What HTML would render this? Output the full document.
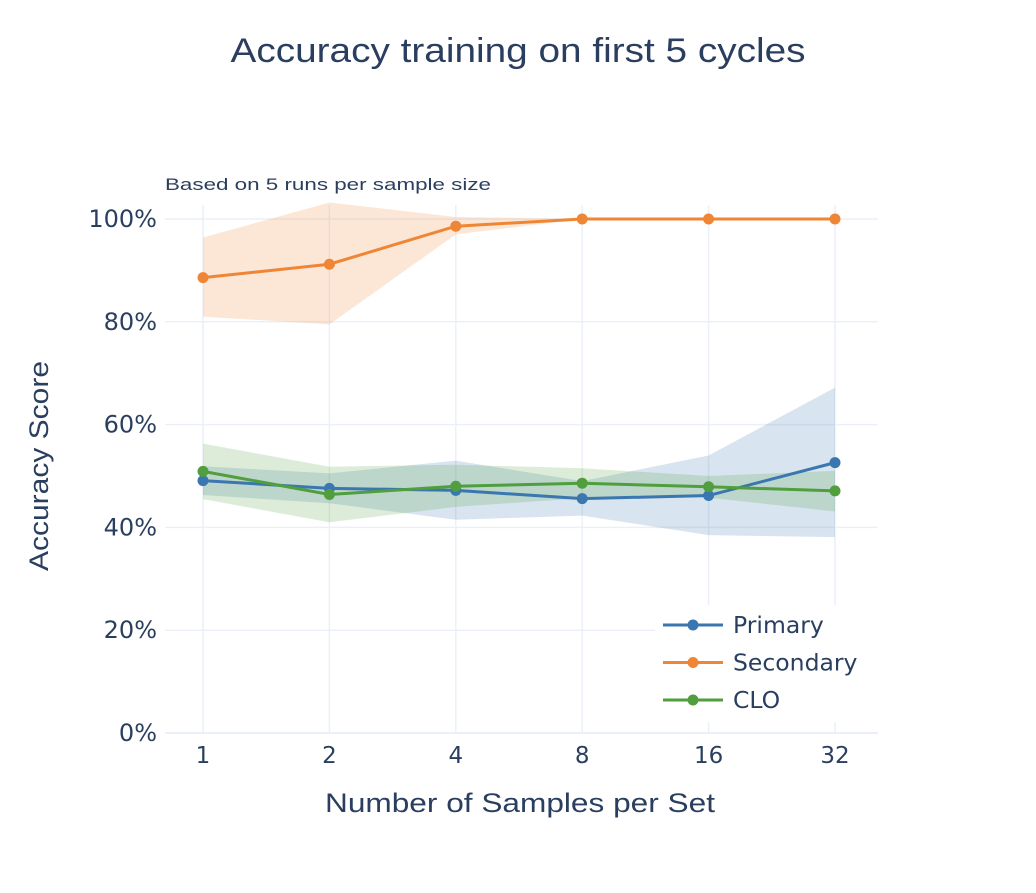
<!DOCTYPE html>
<html><head><meta charset="utf-8"><style>
body{margin:0;background:#fff;font-family:"Liberation Sans",sans-serif;}
</style></head><body>
<svg id="chart" width="1036" height="888" xmlns="http://www.w3.org/2000/svg">
<rect width="1036" height="888" fill="#fff"/>
<text x="518" y="62" text-anchor="middle" font-size="34" fill="#2a3f5f" textLength="575" lengthAdjust="spacingAndGlyphs">Accuracy training on first 5 cycles</text>
<text x="165" y="190" font-size="17" fill="#2a3f5f" textLength="326" lengthAdjust="spacingAndGlyphs">Based on 5 runs per sample size</text>
<g id="grid"></g><g id="bands"></g><g id="lines"></g><g id="axes"></g>
<text x="520" y="812" text-anchor="middle" font-size="27" fill="#2a3f5f" textLength="390" lengthAdjust="spacingAndGlyphs">Number of Samples per Set</text>
<text transform="translate(48,466) rotate(-90)" text-anchor="middle" font-size="27" fill="#2a3f5f" textLength="210" lengthAdjust="spacingAndGlyphs">Accuracy Score</text>
<g id="legend"></g>
</svg>
<script>
const categories=["1","2","4","8","16","32"];
const yTicks=[0,20,40,60,80,100];
const seriesNames=["Primary","Secondary","CLO"];
const primaryMean=[49.1,47.6,47.2,45.6,46.2,52.6];
const primaryUpper=[51.9,50.5,53,49,54,67.2];
const primaryLower=[46.3,44.7,41.5,42.3,38.5,38.1];
const secondaryMean=[88.6,91.2,98.6,100,100,100];
const secondaryUpper=[96.4,103.2,100.4,100,100,100];
const secondaryLower=[81,79.5,97,100,100,100];
const cloMean=[50.9,46.4,48.0,48.6,47.9,47.1];
const cloUpper=[56.3,51.8,52.2,51.5,50,51];
const cloLower=[45.5,41,44,45.7,45.8,43.1];
const colors=["#3a76af","#ef8636","#519e3e"];
const fills=["rgba(58,118,175,0.2)","rgba(239,134,54,0.2)","rgba(81,158,62,0.2)"];
const NS="http://www.w3.org/2000/svg";
const FONT='"DejaVu Sans", "Liberation Sans", sans-serif';
const xL=165,xR=878,y0=733,y100=219;
function xs(i){return 203+i*(835-203)/(categories.length-1);}
function ys(v){return y0+(y100-y0)*v/100;}
function mk(t,a,p){const e=document.createElementNS(NS,t);for(const k in a)e.setAttribute(k,a[k]);p.appendChild(e);return e;}
const grid=document.getElementById('grid'),axes=document.getElementById('axes'),bands=document.getElementById('bands'),lines=document.getElementById('lines'),leg=document.getElementById('legend');
yTicks.forEach(v=>{
 const l=mk('line',{x1:xL,x2:xR,y1:ys(v),y2:ys(v),stroke:'#ebf0f8','stroke-width':v===0?2:1.5},grid);
 
 
 const t=mk('text',{x:157,y:ys(v)+8,'text-anchor':'end','font-size':24,fill:'#2a3f5f','font-family':FONT},axes);
 t.textContent=v+'%';
 
 
});
categories.forEach((c,i)=>{
 const l=mk('line',{x1:xs(i),x2:xs(i),y1:205,y2:y0,stroke:'#ebf0f8','stroke-width':1.5},grid);
 
 
 const t=mk('text',{x:xs(i),y:763,'text-anchor':'middle','font-size':23,fill:'#2a3f5f','font-family':FONT},axes);
 t.textContent=c;
 
 
});
const S=[[primaryMean,primaryUpper,primaryLower],[secondaryMean,secondaryUpper,secondaryLower],[cloMean,cloUpper,cloLower]];
S.forEach((s,k)=>{
 let d='';s[1].forEach((v,i)=>d+=(i?'L':'M')+xs(i)+','+ys(v));
 for(let i=s[2].length-1;i>=0;i--)d+='L'+xs(i)+','+ys(s[2][i]);
 const b=mk('path',{d:d+'Z',fill:fills[k],stroke:'none'},bands);
 
 
});
S.forEach((s,k)=>{
 const pts=s[0].map((v,i)=>xs(i)+','+ys(v)).join(' ');
 const pl=mk('polyline',{points:pts,fill:'none',stroke:colors[k],'stroke-width':3},lines);
 
 
 s[0].forEach((v,i)=>{
  const c=mk('circle',{cx:xs(i),cy:ys(v),r:5.5,fill:colors[k]},lines);
  
  
 });
});
const lb=mk('rect',{x:655,y:605,width:225,height:117,fill:'#fff'},leg);


seriesNames.forEach((n,k)=>{
 const y=625+k*37.5;
 const g=mk('g',{},leg);
 
 
 mk('line',{x1:663,x2:723,y1:y,y2:y,stroke:colors[k],'stroke-width':3},g);
 mk('circle',{cx:693,cy:y,r:5.5,fill:colors[k]},g);
 const t=mk('text',{x:733,y:y+8,'font-size':23.5,fill:'#2a3f5f','font-family':FONT},g);
 t.textContent=n;
});
</script>
</body></html>
